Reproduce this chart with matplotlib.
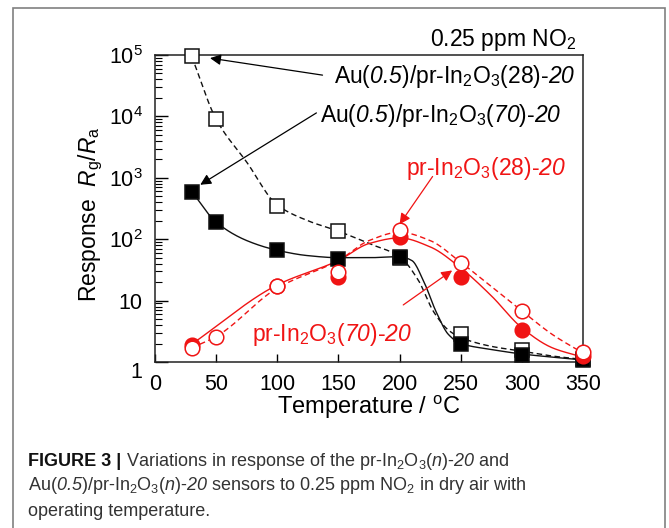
import numpy as np
import matplotlib
matplotlib.use('Agg')
import matplotlib.pyplot as plt
from matplotlib.patches import Rectangle
from matplotlib.ticker import FixedLocator, FixedFormatter, NullFormatter

plt.rcParams['font.family'] = ['Liberation Sans', 'DejaVu Sans']
plt.rcParams['mathtext.fontset'] = 'custom'
plt.rcParams['mathtext.rm'] = 'Liberation Sans'
plt.rcParams['mathtext.it'] = 'Liberation Sans:italic'
plt.rcParams['mathtext.sf'] = 'Liberation Sans:italic'   # \mathsf used for italic digits
plt.rcParams['mathtext.bf'] = 'Liberation Sans:bold'

# measured points (temperature in C, response Rg/Ra)
temp_au28 = [30, 50, 100, 150, 200, 250, 300, 350]
resp_au28 = [95000, 9000, 350, 135, 50, 2.9, 1.55, 1.1]
temp_au70 = [30, 50, 100, 150, 200, 250, 300, 350]
resp_au70 = [590, 190, 66, 48, 52, 1.95, 1.3, 1.08]
temp_pr28 = [30, 50, 100, 150, 200, 250, 300, 350]
resp_pr28 = [1.7, 2.6, 17, 29, 140, 41, 6.8, 1.45]
temp_pr70 = [30, 100, 150, 200, 250, 300, 350]
resp_pr70 = [1.9, 17, 24, 110, 24, 3.3, 1.25]

# guide curves
guide_au28_t = [30, 50, 75, 100, 125, 150, 175, 200, 215, 228, 240, 250, 275, 300, 325, 350]
guide_au28_r = [95000, 9000, 1800, 360, 200, 135, 85, 52, 22, 6.5, 3.3, 2.5, 1.8, 1.5, 1.25, 1.1]
guide_au70_t = [30, 50, 75, 100, 125, 150, 175, 200, 210, 220, 230, 240, 250, 275, 300, 325, 350]
guide_au70_r = [600, 190, 95, 66, 54, 50, 50, 52, 45, 20, 6.5, 2.8, 2.0, 1.6, 1.35, 1.2, 1.08]
guide_pr28_t = [30, 50, 100, 150, 175, 200, 225, 250, 275, 300, 325, 350]
guide_pr28_r = [1.7, 2.6, 16, 45, 95, 130, 95, 42, 17, 6.8, 2.8, 1.4]
guide_pr70_t = [30, 100, 150, 175, 200, 225, 250, 275, 300, 325, 350]
guide_pr70_r = [1.95, 18, 45, 85, 105, 75, 34, 12, 3.6, 1.7, 1.2]

RED = '#f01414'


def smooth(xk, yk, n=400):
    # monotone cubic through the knots, in log space
    x = np.asarray(xk, float)
    y = np.log10(yk)
    h = np.diff(x)
    d = np.diff(y) / h
    m = np.zeros_like(y)
    m[0] = d[0]
    m[-1] = d[-1]
    for i in range(1, len(x) - 1):
        if d[i - 1] * d[i] <= 0:
            m[i] = 0
        else:
            w1 = 2 * h[i] + h[i - 1]
            w2 = h[i] + 2 * h[i - 1]
            m[i] = (w1 + w2) / (w1 / d[i - 1] + w2 / d[i])
    xs = np.linspace(x[0], x[-1], n)
    idx = np.clip(np.searchsorted(x, xs) - 1, 0, len(x) - 2)
    t = (xs - x[idx]) / h[idx]
    ys = ((2 * t**3 - 3 * t**2 + 1) * y[idx] + (t**3 - 2 * t**2 + t) * h[idx] * m[idx]
          + (-2 * t**3 + 3 * t**2) * y[idx + 1] + (t**3 - t**2) * h[idx] * m[idx + 1])
    return xs, 10**ys


fig = plt.figure(figsize=(6.69, 5.28), dpi=100)
fig.patches.append(Rectangle((13 / 669, -0.1), 652 / 669, 1.1 - 8 / 528,
                             transform=fig.transFigure, fill=False,
                             edgecolor='#808080', lw=1.2))

ax = fig.add_axes([155 / 669, 1 - 362 / 528, 428 / 669, 307 / 528])
ax.set_yscale('log')
ax.set_xlim(0, 350)
ax.set_ylim(1, 1e5)

x, y = smooth(guide_au28_t, guide_au28_r)
ax.plot(x, y, color='#111', lw=1.0, ls=(0, (4, 2.5)))
x, y = smooth(guide_au70_t, guide_au70_r)
ax.plot(x, y, color='#111', lw=1.0)
x, y = smooth(guide_pr28_t, guide_pr28_r)
ax.plot(x, y, color=RED, lw=1.0, ls=(0, (4, 2.5)))
x, y = smooth(guide_pr70_t, guide_pr70_r)
ax.plot(x, y, color=RED, lw=1.0)

ax.plot(temp_au28, resp_au28, 's', ms=10, mfc='white', mec='#111', mew=1.1,
        zorder=3, clip_on=False)
ax.plot(temp_au70, resp_au70, 's', ms=10, mfc='black', mec='#111', mew=1.1,
        zorder=4, clip_on=False)
ax.plot(temp_pr70, resp_pr70, 'o', ms=10.5, mfc=RED, mec=RED, mew=1.1,
        zorder=5, clip_on=False)
ax.plot(temp_pr28, resp_pr28, 'o', ms=10.5, mfc='white', mec=RED, mew=1.1,
        zorder=6, clip_on=False)

for s in ax.spines.values():
    s.set_linewidth(1.1)
    s.set_color('#222')

ax.xaxis.set_major_locator(FixedLocator([0, 50, 100, 150, 200, 250, 300, 350]))
ax.tick_params(axis='x', direction='in', length=6, width=1.0, pad=9,
               labelsize=15.5, top=False)
ax.yaxis.set_major_locator(FixedLocator([1, 10, 1e2, 1e3, 1e4, 1e5]))
ax.yaxis.set_major_formatter(FixedFormatter(['1', '10', '$10^2$', '$10^3$', '$10^4$', '$10^5$']))
minors = [k * 10**e for e in range(5) for k in range(2, 10)]
ax.yaxis.set_minor_locator(FixedLocator(minors))
ax.yaxis.set_minor_formatter(NullFormatter())
ax.tick_params(axis='y', which='major', direction='in', length=9, width=1.0,
               pad=9, labelsize=15.5, right=False)
ax.tick_params(axis='y', which='minor', direction='in', length=5, width=0.8,
               right=False)
ax.get_yticklabels()[0].set_verticalalignment('top')

ax.set_xlabel('Temperature / $^{\\rm o}$C', fontsize=17, va='top')
ax.xaxis.set_label_coords(0.5, -0.105)
ax.set_ylabel('Response  $R_{\\rm g}/R_{\\rm a}$', fontsize=16.5)
ax.yaxis.set_label_coords(-0.117, 0.48)

fig.text(430 / 669, 1 - 46 / 528, '0.25 ppm NO$_2$', fontsize=16.5, va='baseline')

# labels with arrows
ax.text(146, 4.4e4, 'Au($\\mathsf{0.5}$)/pr-In$_2$O$_3$(28)-$\\mathsf{20}$',
        fontsize=16.5, va='center')
ax.annotate('', xy=(45, 8.9e4), xytext=(137, 4.7e4),
            arrowprops=dict(arrowstyle='-|>', color='black', lw=0.9,
                            mutation_scale=16, shrinkA=0, shrinkB=0))
ax.text(135, 1.03e4, 'Au($\\mathsf{0.5}$)/pr-In$_2$O$_3$($\\mathsf{70}$)-$\\mathsf{20}$',
        fontsize=16.5, va='center')
ax.annotate('', xy=(37, 770), xytext=(132, 1.14e4),
            arrowprops=dict(arrowstyle='-|>', color='black', lw=0.9,
                            mutation_scale=16, shrinkA=0, shrinkB=0))
ax.text(205, 1.4e3, 'pr-In$_2$O$_3$(28)-$\\mathsf{20}$', fontsize=16.5,
        color=RED, va='center')
ax.annotate('', xy=(200, 175), xytext=(227, 1.05e3),
            arrowprops=dict(arrowstyle='-|>', color=RED, lw=0.9,
                            mutation_scale=16, shrinkA=0, shrinkB=0))
ax.text(79, 2.8, 'pr-In$_2$O$_3$($\\mathsf{70}$)-$\\mathsf{20}$', fontsize=16.5,
        color=RED, va='center')
ax.annotate('', xy=(243, 31), xytext=(203, 8.5),
            arrowprops=dict(arrowstyle='-|>', color=RED, lw=0.9,
                            mutation_scale=16, shrinkA=0, shrinkB=0))

# caption
cap_size = 13
head = fig.text(28 / 669, 1 - 462 / 528, 'FIGURE 3 |', fontsize=cap_size,
                fontweight='bold', va='center', color='#111')
fig.canvas.draw()
bb = head.get_window_extent(renderer=fig.canvas.get_renderer())
fig.text((bb.x1 + 5) / 669, 1 - 462 / 528,
         'Variations in response of the pr-In$_2$O$_3$($\\mathit{n}$)-$\\mathsf{20}$ and',
         fontsize=cap_size, va='center', color='#333')
fig.text(28 / 669, 1 - 486 / 528,
         'Au($\\mathsf{0.5}$)/pr-In$_2$O$_3$($\\mathit{n}$)-$\\mathsf{20}$ sensors to 0.25 ppm NO$_2$ in dry air with',
         fontsize=cap_size, va='center', color='#333')
fig.text(28 / 669, 1 - 511 / 528, 'operating temperature.',
         fontsize=cap_size, va='center', color='#333')

fig.savefig('out.png', dpi=100)
